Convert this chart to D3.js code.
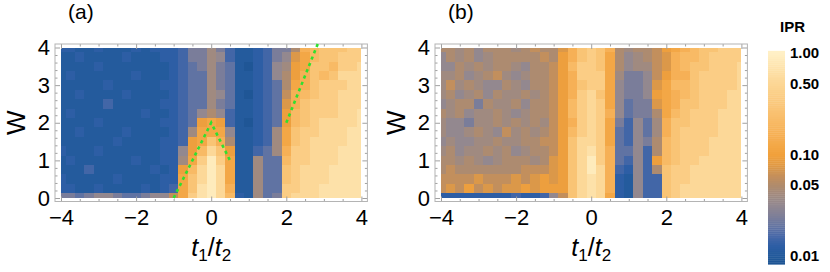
<!DOCTYPE html>
<html>
<head>
<meta charset="utf-8">
<script src="https://cdn.jsdelivr.net/npm/d3@7"></script>
<style>
  body { margin: 0; background: #fff; }
  svg { display: block; font-family: "Liberation Sans", Arial, sans-serif; }
</style>
</head>
<body>
<div id="chart"></div>
<script>
// grid positions of the samples (t1/t2 and W)
const xGrid = [-4, -3.75, -3.5, -3.25, -3, -2.75, -2.5, -2.25, -2, -1.75, -1.5, -1.25, -1,
  -0.75, -0.5, -0.25, 0, 0.25, 0.5, 0.75, 1, 1.25, 1.5, 1.75, 2, 2.25, 2.5, 2.75, 3, 3.25, 3.5, 3.75, 4];
const wGrid = [0, 0.25, 0.5, 0.75, 1, 1.25, 1.5, 1.75, 2, 2.25, 2.5, 2.75, 3, 3.25, 3.5, 3.75, 4];

// IPR level for each character used in the rows below
const levelKeys = "0123456789abcdefghij";
const levelIPR = [0.009, 0.0105, 0.0125, 0.015, 0.019, 0.024, 0.032, 0.04, 0.048, 0.06,
  0.075, 0.095, 0.12, 0.16, 0.21, 0.28, 0.38, 0.52, 0.68, 0.88];

// panel (a), rows from W = 4 (top) down to W = 0, columns t1/t2 = -4 .. 4
const iprA = [
  "2211211121222" + "355753" + "11235" + "58defffgg",
  "1121111211122" + "355763" + "11235" + "6aceffggg",
  "1111211111112" + "345754" + "10236" + "7bcffeggh",
  "1211111121112" + "344754" + "11236" + "8bdfefhhh",
  "1111121111122" + "344754" + "11234" + "8cdfggghh",
  "1121111211112" + "344764" + "10234" + "9defgghhh",
  "1111131111122" + "344754" + "11234" + "adfggghhh",
  "1211111112112" + "346863" + "11234" + "befggghhi",
  "1111211111122" + "34bcb3" + "10234" + "befghhhhi",
  "1121111211112" + "37ccc6" + "11237" + "cfgghhhii",
  "1111112111122" + "3bcfd8" + "11237" + "cfghhhhii",
  "2111211111122" + "6behfb" + "11347" + "dgghhhiii",
  "1211111121122" + "7cgjgc" + "11744" + "egghhhiii",
  "1113111111212" + "behjhc" + "11744" + "fghhhiiii",
  "2111112111122" + "cfhjhc" + "11744" + "fghhhiiii",
  "2211211112123" + "cfijhd" + "11744" + "gghhiiiii",
  "5545665445669" + "cgijhe" + "21745" + "ghhhiiiii"
];

// panel (b)
const iprB = [
  "8878688878988" + "adfgfd" + "87889" + "bcdeffggg",
  "6878678888898" + "bdfgfc" + "86789" + "adeefgggg",
  "6687878876889" + "beggfc" + "86779" + "adeffgggh",
  "7786789767889" + "bdgggc" + "75569" + "bddfggggh",
  "7978766876889" + "bdfggc" + "6556a" + "ceefggggh",
  "7867868778789" + "bdghfc" + "6556b" + "cdefggghh",
  "6788587786889" + "beghgc" + "6455a" + "cdffggghh",
  "8786778767889" + "beghgd" + "64558" + "cefggghhh",
  "7665778787879" + "bdghgc" + "53647" + "dffggghhh",
  "7667876978789" + "beghgc" + "43647" + "dfgggghhh",
  "6766778778899" + "bfhhgc" + "43658" + "efggghhhh",
  "7867787867889" + "bfhigd" + "44638" + "efggghhhh",
  "887876788878a" + "bfhjgd" + "4363b" + "efgghhhhh",
  "898888888999a" + "bfhjhd" + "32638" + "fgghhhhhh",
  "9999a999a9aba" + "bfhihd" + "21633" + "fgghhhhhh",
  "9a9b9a9aababb" + "bfhihd" + "21633" + "fghhhhhhh",
  "2222222232236" + "9fhihc" + "21633" + "fghhhhhhh"
];

// green dashed guide lines in panel (a), in (t1/t2, W)
const guideA1 = [[-1, 0], [0, 2], [0.5, 1]];
const guideA2 = [[2, 2], [2.84, 4.1]];

const xMajor = [-4, -2, 0, 2, 4];
const wMajor = [0, 1, 2, 3, 4];
const legendTicks = [1, 0.5, 0.1, 0.05, 0.01];
const legendLabels = ["1.00", "0.50", "0.10", "0.05", "0.01"];

// colour function of log10(IPR)
const stopLog = [-2.1, -2.0, -1.9, -1.8, -1.7, -1.6, -1.5, -1.4, -1.3, -1.2, -1.1, -1.0, -0.8, -0.6, -0.4, -0.2, 0];
const stopColor = ["#1b5190", "#225a9b", "#2d5ea5", "#4868a8", "#6676a2", "#7f7f98", "#928890",
  "#a08a80", "#b08b6c", "#c79059", "#e19a44", "#f1a13c", "#f6b055", "#f9c06f", "#fbcf88", "#fddea3", "#fff0c6"];

const color = d3.scaleLinear().domain(stopLog).range(stopColor).clamp(true);
const fill = (ipr) => color(Math.log10(ipr));

const width = 830;
const height = 272;

const svg = d3
  .select("#chart")
  .append("svg")
  .attr("width", width)
  .attr("height", height);

const y = d3.scaleLinear().domain([0, 4]).range([198, 47.5]);

function drawPanel(left, rows, label, guides) {
  const x = d3.scaleLinear().domain([-4, 4]).range([left, left + 300.4]);
  const g = svg.append("g");

  const cells = [];
  rows.forEach((row, r) => {
    const w = wGrid[wGrid.length - 1 - r];
    [...row].forEach((ch, i) => {
      cells.push({ t: xGrid[i], w: w, ipr: levelIPR[levelKeys.indexOf(ch)] });
    });
  });

  const x0 = (d) => x(Math.max(-4, d.t - 0.125));
  const x1 = (d) => x(Math.min(4, d.t + 0.125));
  const y0 = (d) => y(Math.min(4, d.w + 0.125));
  const y1 = (d) => y(Math.max(0, d.w - 0.125));

  g.append("g")
    .selectAll("rect")
    .data(cells)
    .join("rect")
    .attr("x", x0)
    .attr("y", y0)
    .attr("width", (d) => x1(d) - x0(d))
    .attr("height", (d) => y1(d) - y0(d))
    .attr("fill", (d) => fill(d.ipr))
    .attr("shape-rendering", "crispEdges");

  // frame with a small padding round the data, like the original
  const fl = x(-4) - 6, fr = x(4) + 6, ft = y(4) - 3.5, fb = y(0) + 3.5;
  const xMinor = d3.range(-4, 4.01, 0.5).filter((v) => !xMajor.includes(v));
  const wMinor = d3.range(0, 4.01, 0.2).filter((v) => Math.abs(v - Math.round(v)) > 0.01);

  function axis(gen, scale, vals, size, labels, pad) {
    return gen(scale).tickValues(vals).tickSize(-size).tickPadding(pad)
      .tickFormat(labels ? d3.format("d") : "");
  }

  const axes = [
    [d3.axisBottom, x, `translate(0,${fb})`, true],
    [d3.axisTop, x, `translate(0,${ft})`, false],
    [d3.axisLeft, y, `translate(${fl},0)`, true],
    [d3.axisRight, y, `translate(${fr},0)`, false],
  ];
  axes.forEach(([gen, scale, tr, lab]) => {
    const isX = scale === x;
    const major = isX ? xMajor : wMajor;
    const minor = isX ? xMinor : wMinor;
    const pad = isX ? 8 : 5;
    const a = g.append("g").attr("transform", tr);
    a.append("g").call(axis(gen, scale, minor, 2.5, false, pad));
    a.append("g").call(axis(gen, scale, major, 5, lab, pad));
    a.selectAll(".domain").remove();
    a.selectAll("line").attr("stroke", "#a0a0a0");
    a.selectAll("text").attr("font-size", "22px").attr("fill", "#000")
      .attr("font-family", '"Liberation Sans", Arial, sans-serif');
  });

  g.append("rect")
    .attr("x", fl).attr("y", ft)
    .attr("width", fr - fl).attr("height", fb - ft)
    .attr("fill", "none").attr("stroke", "#b4b4b4").attr("stroke-width", 1);

  const line = d3.line().x((d) => x(d[0])).y((d) => y(d[1]));
  guides.forEach((pts) => {
    g.append("path")
      .attr("d", line(pts))
      .attr("fill", "none")
      .attr("stroke", "#2fe02f")
      .attr("stroke-width", 2.6)
      .attr("stroke-dasharray", "3.2,3.6");
  });

  // panel label
  g.append("text").attr("x", left + 7).attr("y", 19).attr("font-size", "21px").text(label);

  // axis titles
  g.append("text")
    .attr("transform", `translate(${left - 36},${(y(0) + y(4)) / 2}) rotate(-90)`)
    .attr("text-anchor", "middle")
    .attr("font-size", "26px")
    .text("W");

  const xt = g.append("text")
    .attr("x", x(0)).attr("y", 256)
    .attr("text-anchor", "middle")
    .attr("font-size", "25px");
  xt.append("tspan").attr("font-style", "italic").text("t");
  xt.append("tspan").attr("font-size", "17px").attr("dy", 5).text("1");
  xt.append("tspan").attr("dy", -5).text("/");
  xt.append("tspan").attr("font-style", "italic").text("t");
  xt.append("tspan").attr("font-size", "17px").attr("dy", 5).text("2");
}

drawPanel(61, iprA, "(a)", [guideA1, guideA2]);
drawPanel(441, iprB, "(b)", []);

// colour bar (log scale)
const yLeg = d3.scaleLog().domain([1, 0.01]).range([53, 256]);
const legDomain = [0.0083, 1.05];
const nBands = 110;
const bandLog = d3.range(nBands).map((i) =>
  Math.log10(legDomain[0]) + (i / nBands) * (Math.log10(legDomain[1]) - Math.log10(legDomain[0])));
const bandStep = (Math.log10(legDomain[1]) - Math.log10(legDomain[0])) / nBands;

const leg = svg.append("g");
leg.selectAll("rect")
  .data(bandLog)
  .join("rect")
  .attr("x", 768)
  .attr("width", 17)
  .attr("y", (d) => yLeg(Math.pow(10, d + bandStep)))
  .attr("height", (d) => yLeg(Math.pow(10, d)) - yLeg(Math.pow(10, d + bandStep)) + 0.4)
  .attr("fill", (d) => color(d + bandStep / 2));

leg.selectAll("text.tick")
  .data(legendTicks)
  .join("text")
  .attr("class", "tick")
  .attr("x", 790)
  .attr("y", (d) => yLeg(d))
  .attr("dy", "0.36em")
  .attr("font-size", "15px")
  .attr("font-weight", "bold")
  .text((d, i) => legendLabels[i]);

leg.append("text")
  .attr("x", 780).attr("y", 32)
  .attr("font-size", "15px")
  .attr("font-weight", "bold")
  .text("IPR");
</script>
</body>
</html>
